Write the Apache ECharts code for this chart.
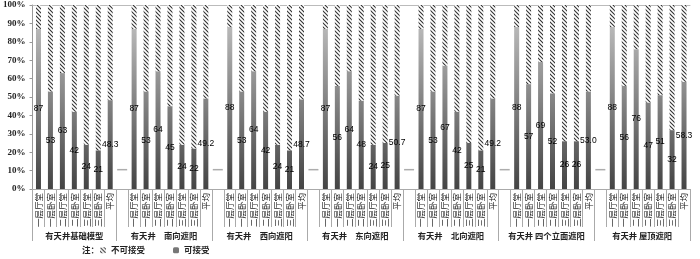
<!DOCTYPE html>
<html>
<head>
<meta charset="utf-8">
<script src="https://cdn.jsdelivr.net/npm/echarts@6/dist/echarts.min.js"></script>
<style>html,body{margin:0;padding:0;background:#fff;}#c{width:700px;height:259px;}</style>
</head>
<body>
<div id="c"></div>
<script>
// ---- data ----
const categories = ['一层厅堂', '一层卧室', '二层厅堂', '二层卧室', '三层厅堂', '三层卧室', '平均'];
const groupNames = ['有天井基础模型', '有天井\u3000南向遮阳', '有天井\u3000西向遮阳', '有天井\u3000东向遮阳', '有天井\u3000北向遮阳', '有天井 四个立面遮阳', '有天井 屋顶遮阳'];
const baseModel = [87, 53, 63, 42, 24, 21, 48.3];
const southShade = [87, 53, 64, 45, 24, 22, 49.2];
const westShade = [88, 53, 64, 42, 24, 21, 48.7];
const eastShade = [87, 56, 64, 48, 24, 25, 50.7];
const northShade = [87, 53, 67, 42, 25, 21, 49.2];
const fourSidesShade = [88, 57, 69, 52, 26, 26, 53.0];
const roofShade = [88, 56, 76, 47, 51, 32, 58.3];
const blankValue = 0;
const blankDashLevel = 10.5;
const yMin = 0, yMax = 100, yStep = 10;
const legendNames = ['不可接受', '可接受'];

// ---- build ----
const groups = [baseModel, southShade, westShade, eastShade, northShade, fourSidesShade, roofShade];
const cats = [], acc = [], rej = [], dash = [], zero = [];
const slotBounds = [0];
groups.forEach((g, gi) => {
  if (gi > 0) { cats.push(''); acc.push('-'); rej.push('-'); dash.push(blankDashLevel); zero.push(blankValue); }
  g.forEach((v, i) => {
    cats.push(categories[i]);
    acc.push({ value: v, label: { formatter: i === categories.length - 1 ? v.toFixed(1) : String(v) } });
    rej.push(+(100 - v).toFixed(1));
    dash.push('-'); zero.push('-');
  });
  slotBounds.push(cats.length);
});
const halfCount = cats.length * 2 + 1;
const boundSet = new Set(slotBounds.map(b => b * 2));
const centerMap = {};
for (let i = 0; i < groupNames.length; i++) centerMap[slotBounds[i] + slotBounds[i + 1]] = groupNames[i];
const groupAxisData = [];
for (let i = 0; i < halfCount; i++) groupAxisData.push(centerMap[i] || '');

// hatch pattern
const pc = document.createElement('canvas');
pc.width = 4; pc.height = 4;
const pctx = pc.getContext('2d');
pctx.fillStyle = '#fff'; pctx.fillRect(0, 0, 4, 4);
pctx.strokeStyle = '#333'; pctx.lineWidth = 1.1;
pctx.beginPath();
pctx.moveTo(-1, -1); pctx.lineTo(5, 5);
pctx.moveTo(-1, 3); pctx.lineTo(1, 5);
pctx.moveTo(3, -1); pctx.lineTo(5, 1);
pctx.stroke();
const hatch = { image: pc, repeat: 'repeat' };

const grad = new echarts.graphic.LinearGradient(0, 189, 0, 5, [
  { offset: 0, color: '#444' }, { offset: 1, color: '#c8c8c8' }
], true);

const cjk = '"Noto Sans CJK SC", sans-serif';
const chart = echarts.init(document.getElementById('c'), null, { renderer: 'canvas' });
chart.setOption({
  animation: false,
  title: { text: '注：', left: 82, top: 246, padding: 0, textStyle: { fontSize: 8.5, fontWeight: 'bold', color: '#222', fontFamily: cjk } },
  legend: {
    data: [{ name: legendNames[0] }, { name: legendNames[1], itemStyle: { color: '#777' } }],
    left: 100, top: 246, padding: 0, itemWidth: 6, itemHeight: 6, itemGap: 28,
    textStyle: { fontSize: 8.5, fontWeight: 'bold', color: '#222', fontFamily: cjk }
  },
  grid: { left: 30, right: 10, top: 5, bottom: 70, containLabel: false },
  xAxis: [
    {
      type: 'category', data: cats, position: 'bottom',
      axisLine: { show: true, lineStyle: { color: '#aaa', width: 1 } },
      axisTick: { show: true, interval: 0, length: 38, lineStyle: { color: '#aaa' } },
      axisLabel: { interval: 0, rotate: 90, fontSize: 8.5, margin: 4, color: '#222', fontFamily: cjk }
    },
    {
      type: 'category', data: groupAxisData, boundaryGap: false, position: 'bottom',
      axisLine: { show: false },
      axisTick: { show: true, length: 52, interval: (i) => boundSet.has(i), lineStyle: { color: '#aaa' } },
      axisLabel: { show: true, interval: (i) => !!centerMap[i], margin: 43, fontSize: 8.3, fontWeight: 'bold', color: '#222', fontFamily: cjk }
    },
    {
      type: 'category', data: cats, position: 'top',
      axisLine: { show: true, lineStyle: { color: '#bbb' } },
      axisTick: { show: false }, axisLabel: { show: false }
    }
  ],
  yAxis: {
    type: 'value', min: yMin, max: yMax, interval: yStep,
    axisLine: { show: true, lineStyle: { color: '#999' } },
    axisTick: { show: true, length: 3, lineStyle: { color: '#999' } },
    splitLine: { show: false },
    axisLabel: { formatter: '{value}%', fontFamily: '"Liberation Serif", serif', fontWeight: 'bold', fontSize: 9, color: '#222', margin: 7 }
  },
  series: [
    {
      name: legendNames[1], type: 'bar', stack: 's', data: acc, barWidth: 5,
      itemStyle: { color: grad },
      label: { show: true, position: 'inside', color: '#000', fontSize: 8.5, fontFamily: '"Liberation Sans", sans-serif' },
      emphasis: { disabled: true }
    },
    {
      name: legendNames[0], type: 'bar', stack: 's', data: rej, barWidth: 5,
      itemStyle: { color: hatch },
      emphasis: { disabled: true }
    },
    {
      name: 'dash', type: 'scatter', data: dash, symbol: 'rect', symbolSize: [10, 1.5],
      itemStyle: { color: '#999' }, silent: true, emphasis: { disabled: true }
    },
    {
      name: 'zero', type: 'scatter', data: zero, symbolSize: 1,
      itemStyle: { opacity: 0 }, silent: true,
      label: { show: true, position: 'inside', formatter: '{c}', color: '#000', fontSize: 8, fontFamily: '"Liberation Sans", sans-serif' },
      emphasis: { disabled: true }
    }
  ]
});
</script>
</body>
</html>
